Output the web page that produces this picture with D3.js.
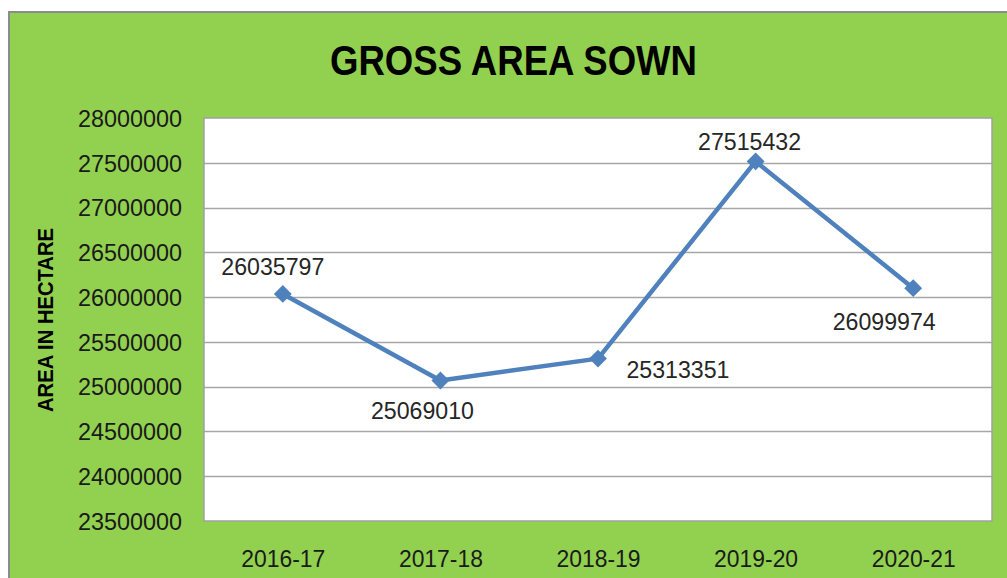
<!DOCTYPE html>
<html>
<head>
<meta charset="utf-8">
<script src="https://cdn.jsdelivr.net/npm/d3@7"></script>
<style>
  html, body { margin: 0; padding: 0; background: #ffffff; }
  svg { display: block; }
</style>
</head>
<body>
<svg id="chart" width="1007" height="578"></svg>
<script>
// ---- data ----
const categories = ["2016-17", "2017-18", "2018-19", "2019-20", "2020-21"];
const values = [26035797, 25069010, 25313351, 27515432, 26099974];
const yTicks = [23500000, 24000000, 24500000, 25000000, 25500000, 26000000, 26500000, 27000000, 27500000, 28000000];
const title = "GROSS AREA SOWN";
const yTitle = "AREA IN HECTARE";
// label offsets (dx, dy) relative to the point, in px
const labelOffsets = [[-10, -27], [-18, 30], [80, 11], [-6, -20], [-29, 34]];

// ---- layout ----
const svg = d3.select("#chart");
const W = 1007, H = 578;
const plot = { left: 204, right: 992, top: 118, bottom: 521 };
const green = "#92D050";
const blue = "#4F81BD";
const font = "'Liberation Sans', Arial, sans-serif";

svg.append("rect")
  .attr("x", 9).attr("y", 12).attr("width", W).attr("height", H)
  .attr("fill", green).attr("stroke", "#8c8c8c").attr("stroke-width", 2);

const x = d3.scalePoint().domain(categories).range([plot.left, plot.right]).padding(0.5);
const y = d3.scaleLinear().domain([23500000, 28000000]).range([plot.bottom, plot.top]);

svg.append("rect")
  .attr("x", plot.left).attr("y", plot.top)
  .attr("width", plot.right - plot.left).attr("height", plot.bottom - plot.top)
  .attr("fill", "#ffffff");

// gridlines
svg.append("g").selectAll("line").data(yTicks.slice(1, -1)).join("line")
  .attr("x1", plot.left).attr("x2", plot.right)
  .attr("y1", d => Math.round(y(d)) + 0.5).attr("y2", d => Math.round(y(d)) + 0.5)
  .attr("stroke", "#a6a6a6").attr("stroke-width", 1.5);

svg.append("rect")
  .attr("x", plot.left).attr("y", plot.top)
  .attr("width", plot.right - plot.left).attr("height", plot.bottom - plot.top)
  .attr("fill", "none").attr("stroke", "#a0a0a0").attr("stroke-width", 1.5);

// y axis
const yAxis = d3.axisLeft(y).tickValues(yTicks).tickSize(0).tickPadding(22)
  .tickFormat(d3.format("d"));
const gy = svg.append("g").attr("transform", `translate(${plot.left},0)`).call(yAxis);
gy.select(".domain").remove();
gy.selectAll("text")
  .attr("font-family", font).attr("font-size", 23).attr("fill", "#1a1a1a")
  .attr("dy", "0.36em")
  .attr("textLength", 104).attr("lengthAdjust", "spacingAndGlyphs");

// x axis
const xAxis = d3.axisBottom(x).tickSize(0).tickPadding(30);
const gx = svg.append("g").attr("transform", `translate(0,${plot.bottom})`).call(xAxis);
gx.select(".domain").remove();
gx.selectAll("text")
  .attr("font-family", font).attr("font-size", 23).attr("fill", "#1a1a1a")
  .attr("textLength", 84).attr("lengthAdjust", "spacingAndGlyphs");

// line
const pts = categories.map((c, i) => ({ c, v: values[i], i }));
svg.append("path").datum(pts)
  .attr("fill", "none").attr("stroke", blue).attr("stroke-width", 4.5)
  .attr("stroke-linejoin", "round")
  .attr("d", d3.line().x(d => x(d.c)).y(d => y(d.v)));

// markers
svg.append("g").selectAll("path").data(pts).join("path")
  .attr("d", d3.symbol().type(d3.symbolSquare).size(160))
  .attr("transform", d => `translate(${x(d.c)},${y(d.v)}) rotate(45)`)
  .attr("fill", blue);

// data labels
svg.append("g").selectAll("text").data(pts).join("text")
  .attr("x", d => x(d.c) + labelOffsets[d.i][0])
  .attr("y", d => y(d.v) + labelOffsets[d.i][1])
  .attr("dy", "0.36em")
  .attr("text-anchor", "middle")
  .attr("font-family", font).attr("font-size", 23).attr("fill", "#262626")
  .attr("textLength", 103).attr("lengthAdjust", "spacingAndGlyphs")
  .text(d => d.v);

// title
svg.append("text")
  .attr("x", 513.5).attr("y", 75)
  .attr("text-anchor", "middle")
  .attr("font-family", font).attr("font-weight", "bold").attr("font-size", 43)
  .attr("fill", "#000")
  .attr("textLength", 367).attr("lengthAdjust", "spacingAndGlyphs")
  .text(title);

// y title
svg.append("text")
  .attr("transform", "translate(53,320) rotate(-90)")
  .attr("text-anchor", "middle")
  .attr("font-family", font).attr("font-weight", "bold").attr("font-size", 22)
  .attr("fill", "#000")
  .attr("textLength", 184).attr("lengthAdjust", "spacingAndGlyphs")
  .text(yTitle);
</script>
</body>
</html>
